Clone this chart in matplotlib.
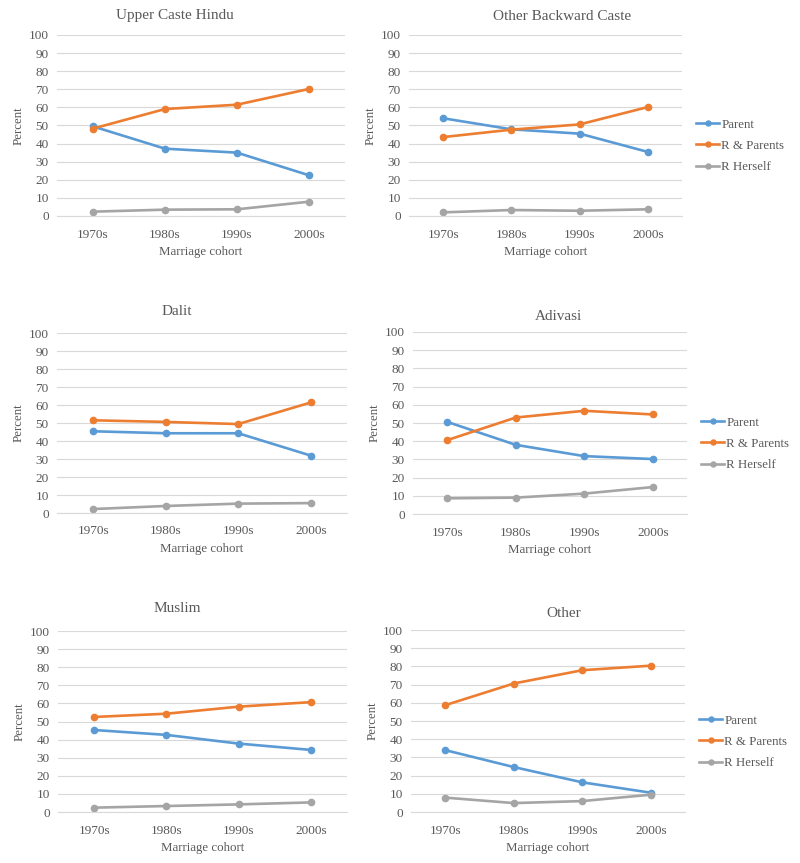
import matplotlib
matplotlib.use("Agg")
from matplotlib import pyplot as plt

# 数据
cohorts = ["1970s", "1980s", "1990s", "2000s"]
series_names = ["Parent", "R & Parents", "R Herself"]

upper_parent = [49.5, 37.2, 35.0, 22.5]
upper_rp = [48.3, 59.1, 61.5, 70.2]
upper_rh = [2.4, 3.5, 3.7, 7.9]

obc_parent = [54.0, 47.9, 45.5, 35.4]
obc_rp = [43.6, 47.7, 50.6, 60.2]
obc_rh = [2.0, 3.3, 2.9, 3.7]

dalit_parent = [45.4, 44.3, 44.3, 31.9]
dalit_rp = [51.5, 50.6, 49.4, 61.4]
dalit_rh = [2.2, 3.9, 5.2, 5.5]

adivasi_parent = [50.6, 38.0, 31.8, 30.2]
adivasi_rp = [40.6, 53.0, 56.7, 54.7]
adivasi_rh = [8.6, 9.0, 11.2, 14.8]

muslim_parent = [45.3, 42.6, 37.8, 34.3]
muslim_rp = [52.5, 54.3, 58.2, 60.7]
muslim_rh = [2.4, 3.3, 4.2, 5.3]

other_parent = [34.0, 24.7, 16.3, 10.6]
other_rp = [58.7, 70.6, 77.9, 80.4]
other_rh = [7.9, 4.9, 6.0, 9.5]

colors = ["#5B9BD5", "#ED7D31", "#A5A5A5"]
text_c = "#595959"

plt.rcParams["font.family"] = ["Liberation Serif", "DejaVu Serif"]

# 每个子图: 标题, 数据, 绘图区(左, 右, 上, 下 像素), 标题中心(x, y), 图例位置(x, y) 或 None
panels = [
    ("Upper Caste Hindu", [upper_parent, upper_rp, upper_rh], (57, 345, 35, 216), (175, 15), None),
    ("Other Backward Caste", [obc_parent, obc_rp, obc_rh], (409, 682, 35, 216), (562, 16), (696, 146)),
    ("Dalit", [dalit_parent, dalit_rp, dalit_rh], (57, 347, 333, 513), (177, 311), None),
    ("Adivasi", [adivasi_parent, adivasi_rp, adivasi_rh], (413, 687, 332, 514), (558, 316), (701, 444)),
    ("Muslim", [muslim_parent, muslim_rp, muslim_rh], (58, 347, 631, 812), (177, 609), None),
    ("Other", [other_parent, other_rp, other_rh], (411, 685, 630, 812), (564, 613), (699, 742)),
]

W, H = 800, 863
fig = plt.figure(figsize=(W / 100, H / 100), dpi=100)

for title, data, (l, r, t, b), (tx, ty), leg in panels:
    ax = fig.add_axes([l / W, 1 - b / H, (r - l) / W, (b - t) / H])
    x = range(len(cohorts))
    lines = []
    for vals, c, name in zip(data, colors, series_names):
        ln, = ax.plot(x, vals, color=c, lw=1.9, marker="o", markersize=4.5, label=name)
        lines.append(ln)
    ax.set_xlim(-0.5, 3.5)
    ax.set_ylim(0, 100)
    ax.set_yticks(range(0, 101, 10))
    ax.set_xticks(list(x))
    ax.set_xticklabels(cohorts)
    ax.grid(axis="y", color="#D9D9D9", lw=0.8)
    ax.set_axisbelow(True)
    for s in ["top", "right", "left"]:
        ax.spines[s].set_visible(False)
    ax.spines["bottom"].set_color("#D9D9D9")
    ax.tick_params(axis="y", length=0, labelsize=9.5, colors=text_c, pad=6)
    ax.tick_params(axis="x", length=0, labelsize=9.5, colors=text_c, pad=9)
    fig.text(tx / W, 1 - ty / H, title, fontsize=11, color=text_c, ha="center", va="center")
    ax.set_xlabel("Marriage cohort", fontsize=9.3, color=text_c, labelpad=4)
    ax.set_ylabel("Percent", fontsize=9.3, color=text_c, labelpad=3)
    if leg is not None:
        fig.legend(lines, series_names, loc="center left",
                   bbox_to_anchor=(leg[0] / W, 1 - leg[1] / H), frameon=False,
                   fontsize=9.3, labelcolor=text_c, handlelength=1.8,
                   handletextpad=0.15, labelspacing=0.7, borderaxespad=0,
                   borderpad=0, markerscale=0.8)

fig.savefig("out.png", dpi=100)
